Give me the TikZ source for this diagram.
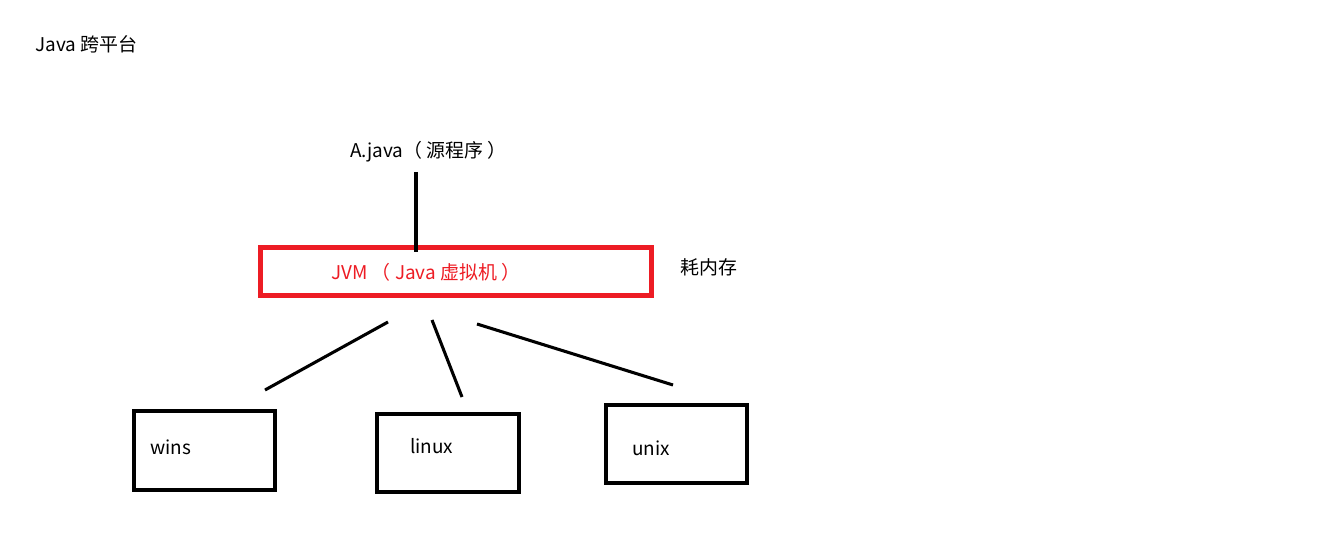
\documentclass[tikz,border=0pt]{standalone}
\usepackage{fontspec}
\setmainfont{Noto Sans CJK SC}
\usetikzlibrary{positioning}

\definecolor{jvmred}{HTML}{ED1C24}

\tikzset{
  txt/.style={inner sep=0pt, anchor=west, font=\fontsize{14.2}{17}\selectfont},
  osbox/.style={draw, line width=3.2pt, minimum width=106pt, minimum height=59pt, inner sep=0pt},
  vmbox/.style={draw=jvmred, line width=3.8pt, minimum width=293pt, minimum height=36pt, inner sep=0pt},
  link/.style={line width=2.3pt}
}

\begin{document}
\begin{tikzpicture}[x=0.75pt, y=-0.75pt]
  \useasboundingbox (0,0) rectangle (1333,538);

  \node[txt] (title) at (35,44) {Java 跨平台};
  \node[txt] (src) at (350,152) {A.java（ 源程序 ）};

  \node[vmbox] (jvm) at (456,271.5) {};
  \node[txt, text=jvmred] (jvmtxt) at (331,272) {JVM （ Java 虚拟机 ）};
  \node[txt] (mem) at (680,267) {耗内存};

  \node[osbox] (wins)  at (204.5,450.5) {};
  \node[osbox] (linux) at (448,453) {};
  \node[osbox] (unix)  at (676.5,444) {};
  \node[txt] (winstxt)  at (150,447) {wins};
  \node[txt] (linuxtxt) at (410,446) {linux};
  \node[txt] (unixtxt)  at (632,448) {unix};

  % free ends of the strokes
  \coordinate (srcend) at (416,172);
  \coordinate (vmtop) at (416,252);
  \coordinate (l1) at (388,322);
  \coordinate (l2) at (265,390);
  \coordinate (m1) at (432,320);
  \coordinate (m2) at (462,397);
  \coordinate (r1) at (477,324);
  \coordinate (r2) at (673,385);

  \draw[link] (srcend) -- (vmtop);
  \draw[link] (l1) -- (l2);
  \draw[link] (m1) -- (m2);
  \draw[link] (r1) -- (r2);
\end{tikzpicture}
\end{document}
